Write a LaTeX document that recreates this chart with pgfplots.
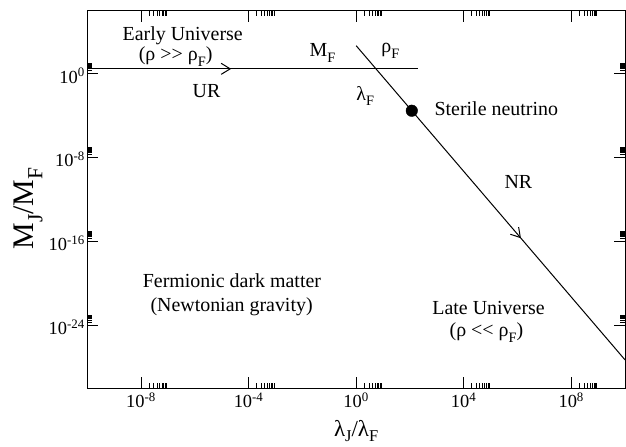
\documentclass[border=0pt]{standalone}
\usepackage{pgfplots}
\pgfplotsset{compat=1.18}
\usepackage{fontspec}
\setmainfont{Liberation Serif}
\usetikzlibrary{decorations.markings,arrows.meta}
\newcommand\annot{\fontsize{20}{24}\selectfont}
\newcommand\sub[1]{\raisebox{-0.3em}{\fontsize{\the\dimexpr0.72\fontdimen6\font\relax}{0pt}\selectfont #1}}
\newcommand\subx[1]{\raisebox{-0.22em}{\fontsize{\the\dimexpr0.72\fontdimen6\font\relax}{0pt}\selectfont #1}}
\begin{document}
\begin{tikzpicture}
\begin{axis}[
  scale only axis,
  width=537.7bp, height=377bp,
  xmode=log, ymode=log,
  xmin=1e-10, xmax=1e10,
  ymin=1e-30, ymax=1e6,
  axis line style={line width=1bp},
  tick align=inside,
  tick pos=both,
  major tick length=11bp,
  minor tick length=5bp,
  every tick/.style={black, line width=0.8bp},
  xtick={1e-8,1e-4,1,1e4,1e8},
  xticklabels={10\textsuperscript{-8},10\textsuperscript{-4},10\textsuperscript{0},10\textsuperscript{4},10\textsuperscript{8}},
  minor xtick={2e-8,3e-8,4e-8,5e-8,6e-8,7e-8,8e-8,9e-8,
               2e-4,3e-4,4e-4,5e-4,6e-4,7e-4,8e-4,9e-4,
               2,3,4,5,6,7,8,9,
               2e4,3e4,4e4,5e4,6e4,7e4,8e4,9e4,
               2e8,3e8,4e8,5e8,6e8,7e8,8e8,9e8},
  ytick={1e-24,1e-16,1e-8,1},
  yticklabels={10\textsuperscript{-24},10\textsuperscript{-16},10\textsuperscript{-8},10\textsuperscript{0}},
  minor ytick={2e-24,3e-24,4e-24,5e-24,6e-24,7e-24,8e-24,9e-24,
               2e-16,3e-16,4e-16,5e-16,6e-16,7e-16,8e-16,9e-16,
               2e-8,3e-8,4e-8,5e-8,6e-8,7e-8,8e-8,9e-8,
               2,3,4,5,6,7,8,9},
  ticklabel style={font=\fontsize{18.5}{22}\selectfont},
  xticklabel style={yshift=-1bp},
  yticklabel style={xshift=1bp, yshift=-2bp},
  xlabel={λ\subx{J}/λ\subx{F}},
  ylabel={M\sub{J}/M\sub{F}},
  xlabel style={font=\fontsize{23}{28}\selectfont, at={(axis description cs:0.5,-0.128)}, anchor=base},
  ylabel style={font=\fontsize{30}{36}\selectfont, at={(axis description cs:-0.1004,0.476)}, anchor=base},
  clip=false,
]
\addplot[black, line width=1bp, postaction={decorate},
  decoration={markings, mark=at position 0.435 with {\arrow[line width=1bp]{Straight Barb[length=9bp,width=11bp]}}}]
  coordinates {(1e-10,3) (200,3)};
\addplot[black, line width=1bp, postaction={decorate},
  decoration={markings, mark=at position 0.613 with {\arrow[line width=1bp]{Straight Barb[length=9bp,width=11bp]}}}]
  coordinates {(1,489.8) (1e10,4.9e-28)};
\addplot[only marks, mark=*, mark size=5.8bp, black] coordinates {(117.5,3.0e-4)};

\node[anchor=base west, font=\annot, inner sep=0pt] at (axis cs:2.04e-9,1585) {Early Universe};
\node[anchor=base west, font=\annot, inner sep=0pt] at (axis cs:8.13e-9,17.8) {(ρ >\kern0pt> ρ\sub{F})};
\node[anchor=base west, font=\annot, inner sep=0pt] at (axis cs:8.13e-7,5.0e-3) {UR};
\node[anchor=base west, font=\annot, inner sep=0pt] at (axis cs:0.0182,45.7) {M\sub{F}};
\node[anchor=base west, font=\annot, inner sep=0pt] at (axis cs:8.51,97.7) {ρ\sub{F}};
\node[anchor=base west, font=\annot, inner sep=0pt] at (axis cs:1.0,3.16e-3) {λ\sub{F}};
\node[anchor=base west, font=\annot, inner sep=0pt] at (axis cs:813,1.17e-4) {Sterile neutrino};
\node[anchor=base west, font=\annot, inner sep=0pt] at (axis cs:3.24e5,1.07e-11) {NR};
\node[anchor=base east, font=\annot, inner sep=0pt] at (axis cs:0.0501,3.9e-21) {Fermionic dark matter};
\node[anchor=base east, font=\annot, inner sep=0pt] at (axis cs:0.0245,2.24e-23) {(Newtonian gravity)};
\node[anchor=base west, font=\annot, inner sep=0pt] at (axis cs:676,1.07e-23) {Late Universe};
\node[anchor=base west, font=\annot, inner sep=0pt] at (axis cs:2951,8.9e-26) {(ρ <\kern0pt< ρ\sub{F})};
\end{axis}
\pgfresetboundingbox
\path ([shift={(-87.3bp,-59bp)}]current axis.south west) rectangle ([shift={(1bp,11bp)}]current axis.north east);
\end{tikzpicture}
\end{document}
